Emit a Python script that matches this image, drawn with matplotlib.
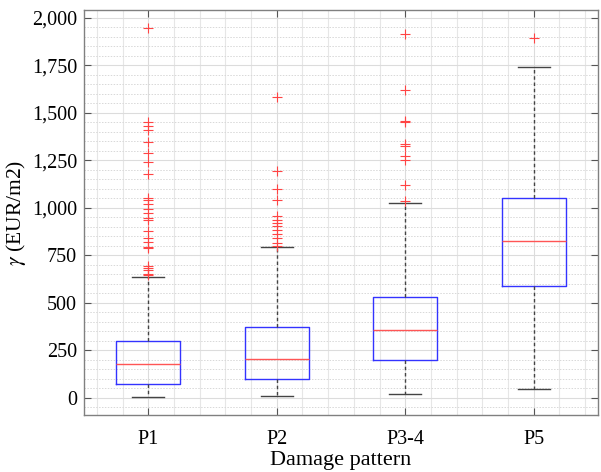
import matplotlib.pyplot as plt
from matplotlib.ticker import MultipleLocator, FuncFormatter

plt.rcParams['font.family'] = ['Liberation Serif', 'DejaVu Serif']
plt.rcParams['mathtext.fontset'] = 'stix'

# values
patterns = ['P1', 'P2', 'P3-4', 'P5']
whis_lo = [5, 10, 19, 49]
q1 = [75, 100, 198, 589]
med = [180, 205, 358, 825]
q3 = [298, 375, 533, 1051]
whis_hi = [637, 793, 1025, 1740]
fliers = [
    [1945, 1449, 1432, 1411, 1344, 1286, 1240, 1179, 1053, 1042, 1021, 995,
     972, 946, 933, 880, 842, 819, 796, 786, 696, 682, 670, 653, 644],
    [1580, 1193, 1100, 1042, 954, 937, 919, 902, 884, 863, 842, 814, 800],
    [1912, 1621, 1456, 1450, 1337, 1326, 1270, 1249, 1121, 1035],
    [1893],
]

stats = []
for i in range(len(patterns)):
    stats.append({'label': patterns[i], 'whislo': whis_lo[i], 'q1': q1[i],
                  'med': med[i], 'q3': q3[i], 'whishi': whis_hi[i],
                  'fliers': fliers[i]})

fig = plt.figure(figsize=(6.01, 4.72), dpi=100)
ax = fig.add_axes([84 / 601, 1 - 415 / 472, 514 / 601, 405 / 472])

ax.bxp(stats, widths=0.5, capwidths=0.25,
       boxprops=dict(color='#3333ff', linewidth=1.0),
       medianprops=dict(color='#ff5555', linewidth=1.0),
       whiskerprops=dict(color='#444444', linewidth=1.0, linestyle=(0, (2.5, 2))),
       capprops=dict(color='#444444', linewidth=1.0),
       flierprops=dict(marker='+', markeredgecolor='#ff4444', markersize=7,
                       markeredgewidth=0.8, linestyle='none'))

ax.set_xlim(0.5, 4.5)
ax.set_ylim(-90, 2040)
ax.yaxis.set_major_locator(MultipleLocator(250))
ax.yaxis.set_minor_locator(MultipleLocator(50))
ax.xaxis.set_minor_locator(MultipleLocator(0.2))
ax.yaxis.set_major_formatter(FuncFormatter(lambda v, p: f'{int(v):,}'))

ax.grid(which='major', axis='both', color='#dcdcdc', linewidth=0.8)
ax.grid(which='minor', axis='x', color='#e6e6e6', linewidth=0.8)
ax.grid(which='minor', axis='y', color='#d8d8d8', linewidth=0.7, linestyle=(0, (1.5, 1.5)))
ax.set_axisbelow(True)

ax.tick_params(which='major', direction='in', length=5, width=0.8, color='#555555',
               top=True, right=True, labelsize=14.5)
ax.tick_params(axis='x', pad=11)
ax.tick_params(axis='y', pad=5)
ax.tick_params(which='minor', length=0)
for s in ax.spines.values():
    s.set_color('#808080')
    s.set_linewidth(1.0)

ax.set_xlabel('Damage pattern', fontsize=16, labelpad=1)
ax.set_ylabel(r'$\gamma$ (EUR/m2)', fontsize=15.5, labelpad=3)

fig.savefig('out.png', dpi=100)
